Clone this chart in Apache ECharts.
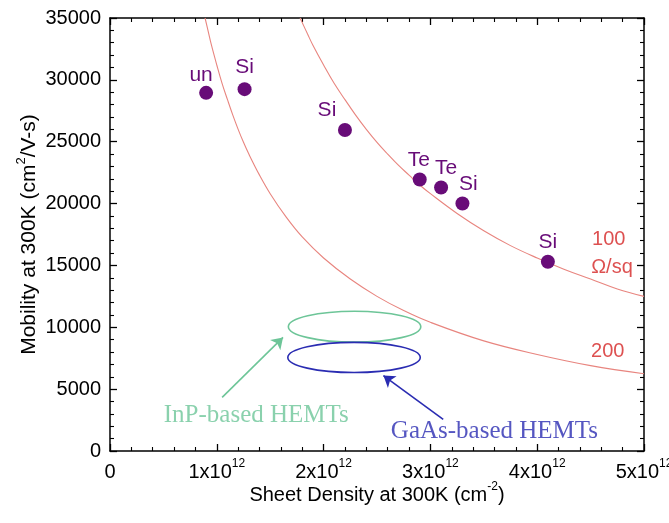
<!DOCTYPE html>
<html>
<head>
<meta charset="utf-8">
<script src="https://cdn.jsdelivr.net/npm/echarts@6/dist/echarts.min.js"></script>
<style>
  html, body { margin: 0; padding: 0; background: #fff; }
  #chart { width: 669px; height: 523px; }
</style>
</head>
<body>
<div id="chart"></div>
<script>
// Sheet density in units of 1e12 cm^-2, mobility in cm^2/V-s
const sampleLabels   = ['un', 'Si', 'Si', 'Te', 'Te', 'Si', 'Si'];
const sampleDensity  = [0.9, 1.26, 2.2, 2.9, 3.1, 3.3, 4.1];
const sampleMobility = [28950, 29250, 25950, 21950, 21300, 20000, 15300];

// Constant sheet-resistance contours
const r100Density  = [1.78, 1.85, 1.9, 2.0, 2.1, 2.2, 2.3, 2.4, 2.5, 2.6, 2.7, 2.8, 2.9, 3.0, 3.25, 3.5, 3.75, 4.0, 4.25, 4.5, 4.75, 5.0];
const r100Mobility = [35000, 33700, 32800, 31200, 29700, 28400, 27150, 26000, 24950, 24000, 23100, 22300, 21500, 20800, 19200, 17800, 16600, 15600, 14700, 13900, 13100, 12500];
const r200Density  = [0.89, 0.92, 0.95, 1.0, 1.05, 1.1, 1.15, 1.2, 1.25, 1.3, 1.4, 1.5, 1.65, 1.8, 2.0, 2.25, 2.5, 2.75, 3.0, 3.5, 4.0, 4.5, 5.0];
const r200Mobility = [35000, 33900, 32800, 31200, 29700, 28400, 27150, 26000, 24950, 24000, 22300, 20800, 18900, 17300, 15600, 13900, 12500, 11350, 10400, 8900, 7800, 6900, 6250];

// HEMT regions: [center density, center mobility, half-width, half-height]
const inpRegion  = [2.29, 10050, 0.62, 1250];
const gaasRegion = [2.285, 7560, 0.62, 1220];

// Axis ticks
const xTicks = [0, 1, 2, 3, 4, 5];
const yTicks = [0, 5000, 10000, 15000, 20000, 25000, 30000, 35000];

// Per-point label offsets (pixels) for the dopant tags
const tagOffsets = [[-5, 2], [0, -2], [-18, 0], [-1, 0], [5, 0], [6, 0], [0, 0]];

const PURPLE = '#680c78';
const RED = '#d42424';
const CURVE = '#e8857f';
const GREEN = '#6dc598';
const BLUE = '#2a2cb2';
const FONT = 'Liberation Sans, Arial, sans-serif';
const SERIF = 'Liberation Serif, Times New Roman, serif';

function supRich(size) {
  return {
    t: { fontFamily: FONT, fontSize: size, color: '#000', lineHeight: size + 4, verticalAlign: 'bottom' },
    s: { fontFamily: FONT, fontSize: Math.round(size * 0.6), color: '#000', lineHeight: size + 4, verticalAlign: 'top' }
  };
}

// Framed axis: ticks point inward, minor ticks split each interval in five
function makeAxis(isX, pos, extra) {
  const ticks = isX ? xTicks : yTicks;
  return Object.assign({
    show: true,
    gridIndex: 0,
    type: 'value',
    position: pos,
    min: ticks[0],
    max: ticks[ticks.length - 1],
    interval: ticks[1] - ticks[0],
    axisLine: { show: true, onZero: false, lineStyle: { color: '#000', width: 1.5 } },
    axisTick: { show: true, inside: true, length: 7, lineStyle: { color: '#000', width: 1.3 } },
    minorTick: { show: true, splitNumber: 5, length: 4, lineStyle: { color: '#000', width: 1.1 } },
    splitLine: { show: false },
    axisLabel: { show: false }
  }, extra || {});
}

function ellipseItem(region, color) {
  return function (params, api) {
    const c = api.coord([region[0], region[1]]);
    const e = api.coord([region[0] + region[2], region[1] + region[3]]);
    return {
      type: 'ellipse',
      shape: { cx: c[0], cy: c[1], rx: Math.abs(e[0] - c[0]), ry: Math.abs(c[1] - e[1]) },
      style: { fill: 'none', stroke: color, lineWidth: 1.6 }
    };
  };
}

const chart = echarts.init(document.getElementById('chart'));

const option = {
  animation: false,
  // Fixed plot rectangle; the last tick label may run past the canvas edge
  grid: { left: 110, right: 25, top: 18, bottom: 72, containLabel: false, outerBoundsMode: 'none' },
  xAxis: [
    makeAxis(true, 'bottom', {
      name: '{t|Sheet Density at 300K (cm}{s|-2}{t|)}',
      nameLocation: 'middle', nameGap: 30, nameMoveOverlap: false,
      nameTextStyle: { rich: supRich(20) },
      axisLabel: {
        show: true, margin: 7,
        formatter: function (v) { return v === 0 ? '{t|0}' : '{t|' + v + 'x10}{s|12}'; },
        rich: supRich(20)
      }
    }),
    makeAxis(true, 'top')
  ],
  yAxis: [
    makeAxis(false, 'left', {
      name: '{t|Mobility at 300K (cm}{s|2}{t|/V-s)}',
      nameLocation: 'middle', nameGap: 70, nameMoveOverlap: false,
      nameTextStyle: { rich: supRich(21) },
      axisLabel: { show: true, margin: 9, fontFamily: FONT, fontSize: 20, color: '#000', formatter: v => String(v) }
    }),
    makeAxis(false, 'right')
  ],
  series: [
    {
      name: '100 ohm/sq', type: 'line', smooth: 0.4, showSymbol: false,
      lineStyle: { color: CURVE, width: 1.1 },
      data: r100Density.map((x, i) => [x, r100Mobility[i]]),
      silent: true, z: 2
    },
    {
      name: '200 ohm/sq', type: 'line', smooth: 0.4, showSymbol: false,
      lineStyle: { color: CURVE, width: 1.1 },
      data: r200Density.map((x, i) => [x, r200Mobility[i]]),
      silent: true, z: 2
    },
    {
      name: 'InP region', type: 'custom', renderItem: ellipseItem(inpRegion, GREEN),
      data: [inpRegion], silent: true, z: 3
    },
    {
      name: 'GaAs region', type: 'custom', renderItem: ellipseItem(gaasRegion, BLUE),
      data: [gaasRegion], silent: true, z: 3
    },
    {
      name: 'arrows', type: 'lines', coordinateSystem: 'cartesian2d', polyline: false,
      symbol: ['none', 'arrow'], symbolSize: 11, silent: true, z: 3,
      data: [
        { coords: [[1.05, 4330], [1.62, 9180]], lineStyle: { color: GREEN, width: 1.6, opacity: 1 } },
        { coords: [[3.12, 2550], [2.56, 6100]], lineStyle: { color: BLUE, width: 1.6, opacity: 1 } }
      ]
    },
    {
      name: 'samples', type: 'scatter', symbol: 'circle', symbolSize: 14,
      itemStyle: { color: PURPLE, opacity: 1 },
      data: sampleDensity.map((x, i) => ({
        value: [x, sampleMobility[i]],
        label: { show: true, position: 'top', distance: 2, offset: tagOffsets[i], formatter: sampleLabels[i] }
      })),
      label: { fontFamily: FONT, fontSize: 21, color: PURPLE },
      z: 5
    },
    {
      name: 'annotations', type: 'scatter', symbolSize: 0, silent: true, z: 6,
      label: { show: true, position: 'inside', formatter: p => p.name },
      data: [
        { name: '100', value: [4.67, 17100], label: { fontFamily: FONT, fontSize: 20, color: RED } },
        { name: 'Ω/sq', value: [4.7, 14850], label: { fontFamily: FONT, fontSize: 20, color: RED } },
        { name: '200', value: [4.66, 8050], label: { fontFamily: FONT, fontSize: 20, color: RED } },
        { name: 'InP-based HEMTs', value: [1.37, 2870], label: { fontFamily: SERIF, fontSize: 25, color: GREEN } },
        { name: 'GaAs-based HEMTs', value: [3.6, 1560], label: { fontFamily: SERIF, fontSize: 25, color: BLUE } }
      ]
    }
  ]
};

chart.setOption(option);
</script>
</body>
</html>
